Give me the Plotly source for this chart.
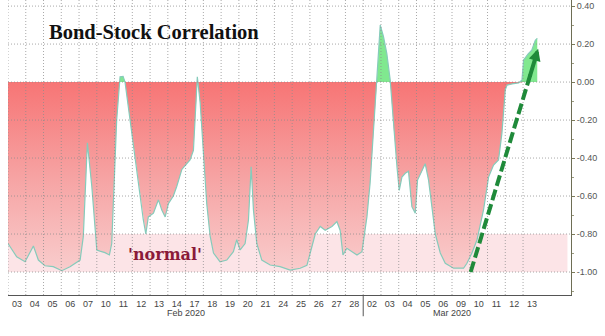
import numpy as np
import plotly.graph_objects as go

# One slot per trading session, 3 Feb - 13 Mar 2020
session_labels = ["03", "04", "05", "06", "07", "10", "11", "12", "13", "14",
                  "17", "18", "19", "20", "21", "24", "25", "26", "27", "28",
                  "02", "03", "04", "05", "06", "09", "10", "11", "12", "13"]
month_labels = ["Feb 2020", "Mar 2020"]
month_bounds = [(0, 20), (20, 30)]

# Rolling bond-stock correlation (position measured in sessions since 3 Feb)
session_pos = [0.00, 0.49, 0.96, 1.43, 1.71, 2.08, 2.55, 3.03, 3.49, 4.06,
               4.24, 4.47, 4.72, 5.00, 5.18, 5.46, 5.71, 5.84, 5.93, 6.12,
               6.31, 6.48, 6.59, 6.87, 7.25, 7.62, 7.76, 7.90, 8.19, 8.47,
               8.66, 8.85, 9.03, 9.31, 9.50, 9.79, 9.97, 10.25, 10.44, 10.59,
               10.66, 10.82, 11.00, 11.19, 11.38, 11.57, 11.94, 12.32, 12.69, 12.88,
               13.07, 13.35, 13.54, 13.69, 13.82, 14.01, 14.29, 14.76, 15.32, 15.89,
               16.45, 16.83, 17.11, 17.30, 17.58, 17.86, 18.24, 18.52, 18.70, 18.86,
               19.08, 19.36, 19.65, 19.93, 20.11, 20.21, 20.39, 20.58, 20.77, 20.96,
               21.14, 21.33, 21.52, 21.71, 21.90, 22.03, 22.18, 22.37, 22.55, 22.74,
               22.93, 23.06, 23.31, 23.49, 23.68, 23.87, 24.06, 24.34, 24.62, 25.09,
               25.65, 25.84, 26.12, 26.41, 26.78, 27.06, 27.34, 27.62, 27.81, 28.00,
               28.10, 28.38, 28.75, 28.94, 29.03, 29.30, 29.49, 29.69, 29.80]
correlation = [-0.85, -0.92, -0.946, -0.863, -0.937, -0.967, -0.972, -0.993, -0.972, -0.937,
               -0.814, -0.32, -0.551, -0.884, -0.89, -0.898, -0.91, -0.85, -0.64, -0.20,
               0.028, 0.03, 0.0, -0.20, -0.46, -0.726, -0.80, -0.71, -0.69, -0.62,
               -0.674, -0.71, -0.64, -0.60, -0.55, -0.46, -0.44, -0.41, -0.36, -0.11,
               0.028, -0.11, -0.37, -0.64, -0.81, -0.90, -0.946, -0.937, -0.893, -0.83,
               -0.884, -0.85, -0.726, -0.446, -0.674, -0.85, -0.937, -0.963, -0.972, -0.99,
               -0.98, -0.965, -0.867, -0.80, -0.76, -0.78, -0.76, -0.735, -0.78, -0.91,
               -0.875, -0.893, -0.91, -0.893, -0.78, -0.71, -0.53, -0.27, 0.01, 0.30,
               0.24, 0.15, 0.01, -0.235, -0.446, -0.57, -0.50, -0.48, -0.47, -0.656,
               -0.69, -0.516, -0.47, -0.43, -0.516, -0.656, -0.80, -0.90, -0.954, -0.98,
               -0.98, -0.954, -0.90, -0.83, -0.67, -0.50, -0.437, -0.41, -0.27, -0.04,
               -0.016, -0.01, -0.004, 0.01, 0.116, 0.15, 0.168, 0.22, 0.23]

y_ticks = [0.40, 0.20, 0.00, -0.20, -0.40, -0.60, -0.80, -1.00]
normal_band = (-1.00, -0.80)
trend_arrow_start = (26.05, -1.00)
trend_arrow_end = (29.85, 0.175)

X_RANGE = [0, 31.7]
Y_RANGE = [-1.121, 0.432]


def split_at_zero(xs, ys):
    """Insert points where the series crosses zero so both fills meet cleanly."""
    ox, oy = [xs[0]], [ys[0]]
    for i in range(1, len(xs)):
        x0, y0, x1, y1 = xs[i - 1], ys[i - 1], xs[i], ys[i]
        if (y0 < 0 <= y1) or (y1 < 0 <= y0):
            t = y0 / (y0 - y1)
            ox.append(x0 + t * (x1 - x0))
            oy.append(0.0)
        ox.append(x1)
        oy.append(y1)
    return np.array(ox), np.array(oy)


fx, fy = split_at_zero(session_pos, correlation)
neg = np.minimum(fy, 0.0)
pos = np.maximum(fy, 0.0)
poly_x = list(fx) + [fx[-1], fx[0]]

fig = go.Figure()

# Negative correlation: red area hanging from zero
fig.add_trace(go.Scatter(
    x=poly_x, y=list(neg) + [0.0, 0.0], mode="lines", fill="toself",
    line=dict(width=0), hoverinfo="skip", showlegend=False,
    fillgradient=dict(type="vertical", start=-1.0, stop=0.0,
                      colorscale=[[0, "#f9cdcd"], [0.5, "#f6a3a3"], [1, "#f77575"]]),
))
# Positive correlation: green area above zero
fig.add_trace(go.Scatter(
    x=poly_x, y=list(pos) + [0.0, 0.0], mode="lines", fill="toself",
    line=dict(width=0), fillcolor="#80e88f", hoverinfo="skip", showlegend=False,
))
# The correlation line itself
fig.add_trace(go.Scatter(
    x=session_pos, y=correlation, mode="lines",
    line=dict(color="#86cbbb", width=1.2), showlegend=False,
))

shapes = []
# 'normal' regime band
shapes.append(dict(type="rect", xref="x", yref="y", x0=X_RANGE[0], x1=31.5,
                   y0=normal_band[0], y1=normal_band[1], layer="below",
                   fillcolor="#fce4e7", line=dict(width=0)))
# dotted grid drawn over the fills
grid_line = dict(color="rgba(140,140,140,0.75)", width=1, dash="1px,2px")
for k in range(0, 30):
    shapes.append(dict(type="line", xref="x", yref="y", x0=k, x1=k,
                       y0=Y_RANGE[0], y1=Y_RANGE[1], layer="above", line=grid_line))
for v in y_ticks:
    shapes.append(dict(type="line", xref="x", yref="y", x0=X_RANGE[0], x1=X_RANGE[1],
                       y0=v, y1=v, layer="above", line=grid_line))
# month separator tick below the axis
for start, _ in month_bounds[1:]:
    shapes.append(dict(type="line", xref="x", yref="paper", x0=start, x1=start,
                       y0=0, y1=-0.072, line=dict(color="#555555", width=1)))

# dashed trend arrow
ax0, ay0 = trend_arrow_start
ax1, ay1 = trend_arrow_end
frac = 0.9
mx, my = ax0 + frac * (ax1 - ax0), ay0 + frac * (ay1 - ay0)
arrow_green = "#1f8a3a"
shapes.append(dict(type="line", xref="x", yref="y", x0=ax0, y0=ay0, x1=mx, y1=my,
                   layer="above", line=dict(color=arrow_green, width=4, dash="11px,4px")))

annotations = [
    dict(x=ax1, y=ay1, ax=mx - 0.03 * (ax1 - ax0), ay=my - 0.03 * (ay1 - ay0),
         xref="x", yref="y", axref="x", ayref="y", text="", showarrow=True,
         arrowhead=2, arrowsize=0.6, arrowwidth=4, arrowcolor=arrow_green),
    dict(x=0.069, y=0.893, xref="paper", yref="paper", xanchor="left", yanchor="middle",
         text="Bond-Stock Correlation", showarrow=False,
         font=dict(family="Liberation Serif", size=20.5, color="#111111", weight="bold")),
    dict(x=8.85, y=-0.91, xref="x", yref="y", xanchor="center", yanchor="middle",
         text="'normal'", showarrow=False,
         font=dict(family="DejaVu Serif", size=16, color="#8b1a3a", weight="bold")),
]
for label, (a, b) in zip(month_labels, month_bounds):
    annotations.append(dict(x=(a + b) / 2, y=-0.061, xref="x", yref="paper",
                            xanchor="center", yanchor="middle", text=label, showarrow=False,
                            font=dict(family="Liberation Sans", size=9, color="#444444")))

fig.update_layout(
    width=605, height=336,
    margin=dict(l=8, r=34, t=0, b=41),
    paper_bgcolor="white", plot_bgcolor="white",
    shapes=shapes, annotations=annotations, showlegend=False,
    xaxis=dict(range=X_RANGE, tickmode="array",
               tickvals=[i + 0.5 for i in range(len(session_labels))],
               ticktext=session_labels, ticks="", showgrid=False, zeroline=False,
               showline=True, linecolor="#555555", linewidth=1,
               tickfont=dict(family="Liberation Sans", size=9, color="#444444")),
    yaxis=dict(range=Y_RANGE, side="right", tickmode="array", tickvals=y_ticks,
               ticktext=[f"{v:.2f}" for v in y_ticks], ticks="outside", ticklen=3,
               tickcolor="#7b7b5a", showgrid=False, zeroline=False,
               showline=True, linecolor="#6e6e55", linewidth=1,
               minor=dict(ticks="outside", ticklen=2, tick0=0, dtick=0.1,
                          tickcolor="#9a9a80"),
               tickfont=dict(family="Liberation Sans", size=9, color="#555555")),
)

fig.write_html("out.html")
